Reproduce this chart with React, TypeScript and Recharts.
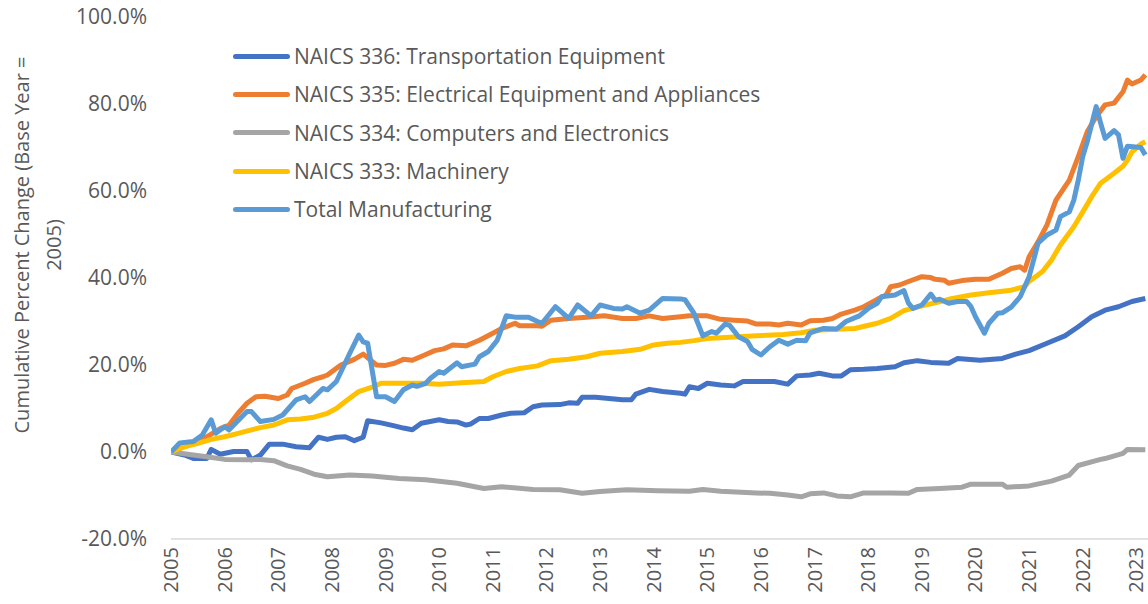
import React from 'react';
import { LineChart, Line, XAxis, YAxis } from 'recharts';

// x = months since Jan 2005, y = cumulative % change
const years = [2005, 2006, 2007, 2008, 2009, 2010, 2011, 2012, 2013, 2014, 2015, 2016, 2017, 2018, 2019, 2020, 2021, 2022, 2023];
const yTicks = [-20, 0, 20, 40, 60, 80, 100];

const transportation: [number, number][] = [
  [0, 0], [3, -0.7], [5, -1.5], [8, -1.5], [9, 0.6], [11, -0.5], [14, 0.1], [17, 0.1], [18, -1.8], [20, -0.7],
  [22, 1.8], [25, 1.8], [28, 1.2], [31, 1.0], [33, 3.4], [35, 2.9], [37, 3.4], [39, 3.5], [41, 2.6], [43, 3.4],
  [44, 7.2], [47, 6.7], [50, 6.0], [52, 5.5], [54, 5.1], [56, 6.6], [58, 7.0], [60, 7.4], [62, 7.0], [64, 6.9],
  [66, 6.2], [67, 6.4], [69, 7.7], [71, 7.7], [74, 8.5], [76, 8.9], [79, 9.0], [81, 10.4], [83, 10.8], [87, 10.9],
  [89, 11.3], [91, 11.2], [92, 12.6], [95, 12.6], [98, 12.3], [101, 12.0], [103, 12.0], [104, 13.3], [107, 14.4],
  [110, 13.9], [114, 13.5], [115, 13.3], [116, 15.0], [118, 14.6], [120, 15.8], [123, 15.4], [126, 15.2], [128, 16.2],
  [135, 16.2], [138, 15.6], [140, 17.5], [143, 17.7], [145, 18.1], [148, 17.5], [150, 17.5], [152, 18.9], [155, 19.0],
  [158, 19.2], [162, 19.6], [164, 20.5], [167, 21.0], [170, 20.6], [174, 20.4], [176, 21.5], [181, 21.1], [186, 21.5],
  [189, 22.5], [192, 23.3], [196, 25.0], [200, 26.7], [203, 28.8], [206, 31.1], [209, 32.6], [212, 33.4], [215, 34.6],
  [218, 35.3],
];

const electrical: [number, number][] = [
  [0, 0], [3, 1.2], [6, 2.5], [8, 3.5], [11, 5.4], [13, 6.2], [15, 8.9], [17, 11.2], [19, 12.7], [21, 12.8],
  [24, 12.3], [26, 13.1], [27, 14.6], [30, 15.8], [32, 16.7], [34, 17.3], [35, 17.7], [38, 20.0], [41, 21.3], [43, 22.5],
  [46, 20.0], [48, 19.9], [50, 20.4], [52, 21.3], [54, 21.1], [57, 22.4], [59, 23.3], [61, 23.7], [63, 24.6], [66, 24.4],
  [69, 25.7], [72, 27.3], [74, 28.4], [77, 29.6], [78, 29.0], [82, 29.0], [83, 28.9], [85, 30.3], [89, 30.7], [93, 31.0],
  [97, 31.3], [101, 30.7], [104, 30.7], [107, 31.3], [110, 30.7], [114, 31.1], [116, 31.3], [120, 31.3], [123, 30.5],
  [126, 30.3], [129, 30.1], [131, 29.4], [134, 29.4], [136, 29.2], [138, 29.6], [141, 29.2], [143, 30.2], [146, 30.3],
  [148, 30.7], [150, 31.7], [153, 32.6], [155, 33.4], [158, 35.1], [160, 36.1], [161, 38.0], [163, 38.4], [165, 39.2],
  [168, 40.3], [170, 40.1], [171, 39.7], [173, 39.5], [174, 38.8], [177, 39.4], [180, 39.7], [183, 39.7], [186, 41.1],
  [188, 42.2], [190, 42.6], [191, 41.8], [192, 44.9], [194, 48.3], [196, 52.2], [198, 57.9], [201, 62.5], [203, 67.9],
  [205, 73.6], [207, 77.1], [209, 79.8], [211, 80.2], [213, 82.8], [214, 85.5], [215, 84.6], [217, 85.5], [218, 86.7],
];

const computers: [number, number][] = [
  [0, 0], [5, -0.7], [8, -1.1], [12, -1.7], [17, -1.8], [20, -1.7], [23, -2.0], [26, -3.2], [29, -4.0], [32, -5.1],
  [35, -5.7], [40, -5.3], [45, -5.5], [51, -6.1], [57, -6.4], [64, -7.2], [70, -8.4], [74, -8.0], [81, -8.6], [87, -8.7],
  [92, -9.5], [96, -9.1], [102, -8.7], [109, -8.9], [116, -9.0], [119, -8.6], [123, -9.0], [131, -9.4], [134, -9.5],
  [138, -9.9], [141, -10.3], [143, -9.6], [146, -9.4], [149, -10.1], [152, -10.3], [155, -9.4], [161, -9.4], [165, -9.5],
  [167, -8.6], [172, -8.4], [177, -8.1], [179, -7.4], [186, -7.4], [187, -8.1], [192, -7.8], [197, -6.7], [201, -5.3],
  [203, -3.1], [208, -1.7], [209, -1.5], [213, -0.3], [214, 0.6], [218, 0.5],
];

const machinery: [number, number][] = [
  [0, 0], [3, 1.2], [6, 2.0], [9, 2.9], [12, 3.5], [15, 4.3], [18, 5.1], [20, 5.6], [23, 6.2], [26, 7.4],
  [29, 7.6], [32, 8.0], [35, 8.9], [37, 10.0], [39, 11.6], [42, 13.9], [45, 14.9], [47, 15.8], [51, 15.8], [56, 15.8],
  [60, 15.6], [65, 15.9], [70, 16.2], [72, 17.3], [75, 18.5], [78, 19.2], [82, 19.8], [85, 21.0], [89, 21.3], [93, 21.9],
  [96, 22.7], [101, 23.1], [105, 23.6], [108, 24.6], [111, 25.0], [114, 25.2], [117, 25.6], [120, 26.1], [125, 26.4],
  [131, 26.7], [137, 27.0], [141, 27.4], [144, 28.0], [149, 28.2], [153, 28.4], [158, 29.6], [161, 30.7], [164, 32.5],
  [168, 33.6], [171, 34.3], [174, 35.1], [179, 36.1], [183, 36.6], [188, 37.2], [191, 38.0], [192, 39.2], [195, 41.5],
  [197, 44.1], [199, 47.6], [202, 51.8], [204, 55.2], [206, 58.7], [208, 61.8], [211, 64.1], [213, 65.7], [214, 67.1],
  [215, 69.0], [217, 70.8], [218, 71.3],
];

const totalMfg: [number, number][] = [
  [0, 0], [2, 2.1], [5, 2.4], [7, 3.9], [9, 7.4], [10, 4.3], [12, 5.8], [13, 5.1], [17, 9.3], [18, 9.3],
  [20, 7.0], [23, 7.5], [25, 8.5], [28, 12.0], [30, 12.7], [31, 11.6], [34, 14.6], [35, 14.3], [37, 16.2], [40, 22.7],
  [42, 26.9], [43, 25.3], [44, 25.0], [46, 12.7], [48, 12.7], [50, 11.6], [52, 14.3], [54, 15.4], [55, 15.1], [57, 15.8],
  [58, 16.9], [60, 18.5], [61, 18.1], [64, 20.5], [65, 19.6], [68, 20.2], [69, 21.9], [71, 23.1], [73, 25.7], [75, 31.3],
  [77, 31.0], [80, 31.0], [82, 30.0], [83, 29.6], [86, 33.4], [89, 30.7], [91, 33.8], [94, 31.3], [96, 33.8], [99, 33.0],
  [101, 32.9], [102, 33.4], [105, 31.9], [107, 32.6], [110, 35.3], [114, 35.2], [115, 35.0], [117, 31.9], [119, 26.7],
  [121, 27.7], [122, 27.3], [124, 29.4], [125, 29.1], [127, 26.5], [129, 25.4], [130, 23.6], [132, 22.3], [134, 24.2],
  [136, 25.7], [138, 24.8], [140, 25.7], [142, 25.6], [143, 27.4], [146, 28.4], [149, 28.3], [151, 30.0], [154, 31.3],
  [156, 33.0], [158, 34.2], [159, 35.7], [162, 36.1], [164, 37.1], [165, 34.2], [166, 33.0], [168, 33.8], [170, 36.3],
  [171, 34.9], [172, 35.1], [174, 34.2], [176, 34.6], [178, 34.6], [179, 33.4], [180, 31.1], [182, 27.3], [183, 29.6],
  [185, 31.9], [186, 32.0], [188, 33.3], [190, 35.7], [192, 40.3], [193, 44.1], [194, 48.0], [196, 49.9], [198, 51.0],
  [199, 54.1], [201, 55.2], [202, 57.9], [203, 62.5], [204, 67.9], [205, 71.3], [207, 79.4], [208, 75.6], [209, 72.1],
  [211, 73.9], [212, 72.9], [213, 67.5], [214, 70.3], [217, 70.0], [218, 68.3],
];

const seriesNames = [
  'NAICS 336: Transportation Equipment',
  'NAICS 335: Electrical Equipment and Appliances',
  'NAICS 334: Computers and Electronics',
  'NAICS 333: Machinery',
  'Total Manufacturing',
];
const seriesColors = ['#4472C4', '#ED7D31', '#A5A5A5', '#FFC000', '#5B9BD5'];
const seriesPoints = [transportation, electrical, computers, machinery, totalMfg];

const series = seriesNames.map((name, i) => ({
  name,
  color: seriesColors[i],
  data: seriesPoints[i].map(([m, v]) => ({ m, v })),
}));

const TEXT = '#595959';
const FONT = '"Open Sans", sans-serif';

function YearTick(props: any) {
  const { x, y, payload } = props;
  return (
    <g transform={`translate(${x},${y}) rotate(-90)`}>
      <text x={0} y={0} dy="0.35em" textAnchor="end" fill={TEXT} fontSize={20} fontFamily={FONT}>
        {2005 + payload.value / 12}
      </text>
    </g>
  );
}

export default function App() {
  return (
    <div style={{ position: 'fixed', left: 0, top: 0, width: 1148, height: 604, background: '#fff', overflow: 'hidden', fontFamily: FONT }}>
      <LineChart width={1148} height={604} margin={{ top: 17, right: 0, bottom: 0, left: 0 }}>
        <XAxis
          type="number"
          dataKey="m"
          domain={[0, 218.6]}
          ticks={years.map((y) => (y - 2005) * 12)}
          interval={0}
          allowDataOverflow
          tickLine={false}
          tickSize={0}
          tickMargin={8}
          axisLine={{ stroke: '#D9D9D9', strokeWidth: 1.5 }}
          tick={<YearTick />}
          height={65}
        />
        <YAxis
          type="number"
          domain={[-20, 100]}
          ticks={yTicks}
          width={171}
          axisLine={false}
          tickLine={false}
          tickSize={0}
          tickMargin={24}
          tickFormatter={(v: number) => `${v.toFixed(1)}%`}
          tick={{ fill: TEXT, fontSize: 21, fontFamily: FONT }}
        />
        {series.map((s) => (
          <Line
            key={s.name}
            data={s.data}
            dataKey="v"
            name={s.name}
            type="linear"
            stroke={s.color}
            strokeWidth={5}
            strokeLinejoin="round"
            dot={false}
            isAnimationActive={false}
          />
        ))}
      </LineChart>

      {/* axis title */}
      <svg width={80} height={604} style={{ position: 'absolute', left: 0, top: 0 }}>
        <text transform="translate(22,245) rotate(-90)" textAnchor="middle" dy="0.35em" fill={TEXT} fontSize={20} fontFamily={FONT}>
          Cumulative Percent Change (Base Year =
        </text>
        <text transform="translate(54,245) rotate(-90)" textAnchor="middle" dy="0.35em" fill={TEXT} fontSize={20} fontFamily={FONT}>
          2005)
        </text>
      </svg>

      {/* legend */}
      <div style={{ position: 'absolute', left: 233, top: 37 }}>
        {series.map((s) => (
          <div key={s.name} style={{ display: 'flex', alignItems: 'center', height: 38.3 }}>
            <div style={{ width: 57, height: 5, background: s.color, borderRadius: 2.5, marginRight: 4 }} />
            <span style={{ color: TEXT, fontSize: 21, whiteSpace: 'nowrap' }}>{s.name}</span>
          </div>
        ))}
      </div>
    </div>
  );
}
